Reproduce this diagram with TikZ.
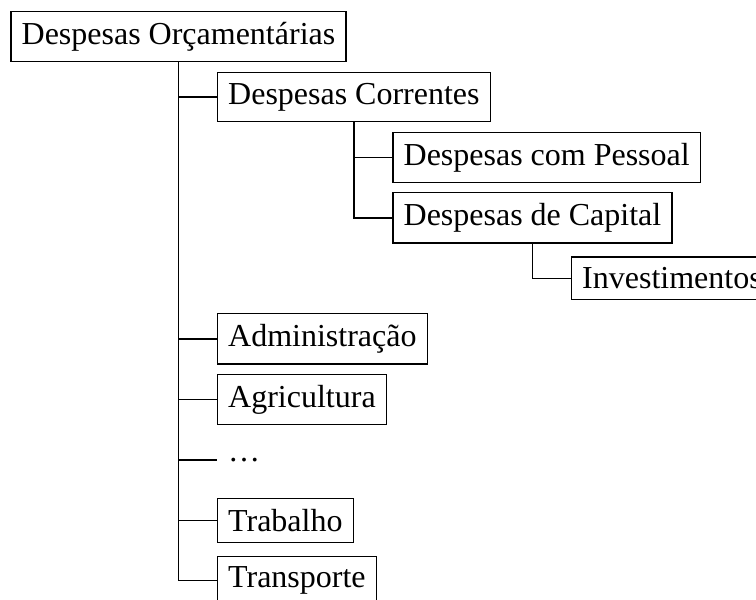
\documentclass[tikz,border=0pt]{standalone}
\usepackage{fontspec}
\setmainfont{Liberation Serif}
\usetikzlibrary{calc}
\tikzset{every node/.style={ % children hang from their west side
            anchor=west},
        item/.style={draw},
        dots/.style={},
        every edge/.style={ % down from the parent, then right to the child
            draw,
            to path={|- (\tikztotarget)}}
        }

\begin{document}
\begin{tikzpicture}[y=-18.9pt]
    \useasboundingbox (-55.78pt,11.41pt) rectangle (180.47pt,-176.09pt);

    \node[item, anchor=center] (orc) at (0,0) {Despesas Orçamentárias};
    \node[item] (corr) at ($(orc.south |- 0,1)+(12pt,0)$) {Despesas Correntes};
    \node[item] (pess) at ($(corr.south |- 0,2)+(12pt,0)$) {Despesas com Pessoal};
    \node[item] (cap)  at ($(corr.south |- 0,3)+(12pt,0)$) {Despesas de Capital};
    \node[item] (inv)  at ($(cap.south |- 0,4)+(12pt,0)$) {Investimentos};
    \node[item] (adm)  at ($(orc.south |- 0,5)+(12pt,0)$) {Administração};
    \node[item] (agr)  at ($(orc.south |- 0,6)+(12pt,0)$) {Agricultura};
    \node[dots] (etc)  at ($(orc.south |- 0,7)+(12pt,0)$) {\dots};
    \node[item] (trab) at ($(orc.south |- 0,8)+(12pt,0)$) {Trabalho};
    \node[item] (tran) at ($(orc.south |- 0,9)+(12pt,0)$) {Transporte};

    \draw
        (orc.south)
            edge (corr.west)
            edge (adm.west)
            edge (agr.west)
            edge (etc.west)
            edge (trab.west)
            edge (tran.west)
        (corr.south)
            edge (pess.west)
            edge (cap.west)
        (cap.south)
            edge (inv.west);
\end{tikzpicture}
\end{document}
